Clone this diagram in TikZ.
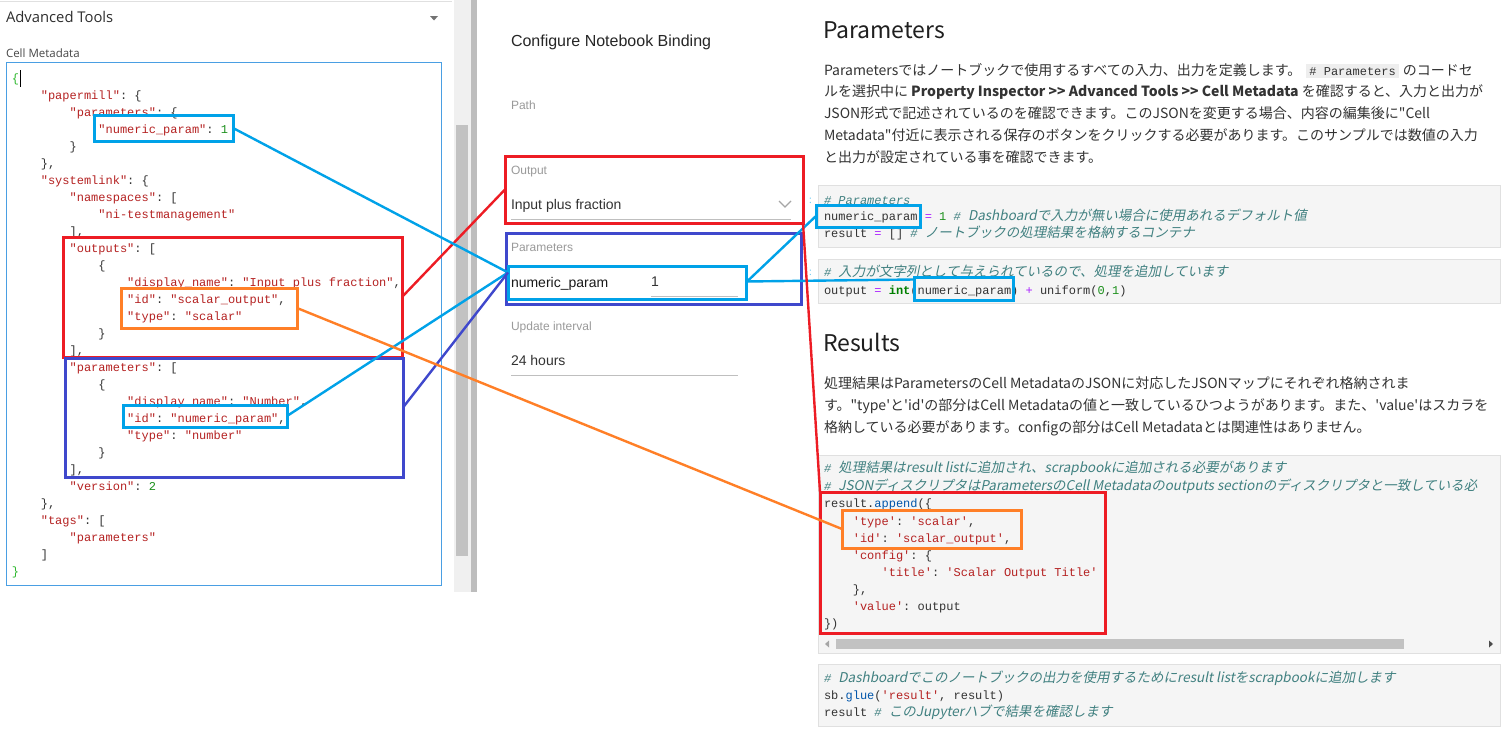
\documentclass[tikz,border=0pt]{standalone}
\usepackage{fontspec}
\setmainfont{Open Sans}
\setmonofont{Liberation Mono}
\newfontfamily\jp{Noto Sans CJK JP}
\newfontfamily\jpi{Noto Sans CJK JP}[FakeSlant=0.2]
\newfontfamily\robo{Liberation Sans}
\usetikzlibrary{calc}
\definecolor{lred}{HTML}{ED1C24}
\definecolor{lcyan}{HTML}{00A2E8}
\definecolor{lind}{HTML}{3F48CC}
\definecolor{lorange}{HTML}{FF7F27}
\definecolor{jstr}{HTML}{B52222}
\definecolor{jnum}{HTML}{1A8F1A}
\definecolor{jbrace}{HTML}{2DB82D}
\definecolor{pun}{HTML}{333333}
\definecolor{cmt}{HTML}{408080}
\definecolor{opc}{HTML}{AA22FF}
\definecolor{bltin}{HTML}{008000}
\definecolor{prop}{HTML}{0055AA}
\definecolor{bodyc}{HTML}{333333}
\definecolor{lbl}{HTML}{9A9A9A}
\definecolor{cellbg}{HTML}{F5F5F5}
\definecolor{cellbd}{HTML}{E0E0E0}
\definecolor{editbd}{HTML}{4A9FE3}
\definecolor{pillbg}{HTML}{EEEEEE}
\newcommand\xS[1]{\textcolor{jstr}{#1}}
\newcommand\xN[1]{\textcolor{jnum}{#1}}
\newcommand\xG[1]{\textcolor{jbrace}{#1}}
\newcommand\xO[1]{\textcolor{opc}{#1}}
\newcommand\xC[1]{\textcolor{cmt}{\itshape #1}}
\newcommand\xJ[1]{{\color{cmt}\jpi\fontsize{13.5}{14}\selectfont #1}}
\newcommand\xP[1]{\textcolor{prop}{#1}}
\newcommand\xB[1]{\textcolor{bltin}{\bfseries #1}}
\newcommand\jl[4]{\node[lc] (#1) at ({12+7.2*#2},{82+17*#3}) {#4};}
\newcommand\rl[4]{\node[lc] (#1) at ({824+7.2*#2},#3) {#4};}
\newcommand\mkbox[6]{\node[mk=#2,minimum width={#5-#3},minimum height={#6-#4}] (#1) at (#3,#4) {};}
\begin{document}
\begin{tikzpicture}[x=1pt,y=-1pt,
  txt/.style={anchor=base west,inner sep=0pt,outer sep=0pt},
  lc/.style={txt,font=\ttfamily\fontsize{12}{14}\selectfont,text=pun},
  bt/.style={txt,font=\jp\fontsize{14}{16}\selectfont,text=bodyc},
  hd/.style={txt,font=\jp\fontsize{23}{26}\selectfont,text=black!88},
  ml/.style={txt,font=\robo\fontsize{12}{14}\selectfont,text=lbl},
  mv/.style={txt,font=\robo\fontsize{14}{16}\selectfont,text=pun},
  mk/.style={draw=#1,line width=3pt,inner sep=0pt,outer sep=0pt,anchor=north west},
  cl/.style={draw=#1,line width=2.4pt},
  cell/.style={fill=cellbg,draw=cellbd,line width=0.8pt}]
\useasboundingbox (0,0) rectangle (1502,736);
\fill[white] (0,0) rectangle (1502,736);

% ---------- left panel ----------
\draw[black!12,line width=1pt] (0,1.5) -- (452,1.5);
\node[txt,font=\fontsize{14.8}{16}\selectfont,text=black!82] (advt) at (6,22) {Advanced Tools};
\fill[black!55] (430,16) -- (438,16) -- (434,20.5) -- cycle;
\node[txt,font=\fontsize{11.5}{13}\selectfont,text=black!72] (cellmd) at (6,57) {Cell Metadata};
\draw[editbd,line width=1pt] (6.5,62.5) rectangle (441.5,585.5);

\jl{j0}{0}{0}{\xG{\{}}
\draw[black,line width=1pt] (20,70) -- (20,87);
\jl{j1}{4}{1}{\xS{"papermill"}: \{}
\jl{j2}{8}{2}{\xS{"parameters"}: \{}
\jl{j3}{12}{3}{\xS{"numeric\_param"}: \xN{1}}
\jl{j4}{8}{4}{\}}
\jl{j5}{4}{5}{\},}
\jl{j6}{4}{6}{\xS{"systemlink"}: \{}
\jl{j7}{8}{7}{\xS{"namespaces"}: [}
\jl{j8}{12}{8}{\xS{"ni-testmanagement"}}
\jl{j9}{8}{9}{],}
\jl{j10}{8}{10}{\xS{"outputs"}: [}
\jl{j11}{12}{11}{\{}
\jl{j12}{16}{12}{\xS{"display\_name"}: \xS{"Input plus fraction"},}
\jl{j13}{16}{13}{\xS{"id"}: \xS{"scalar\_output"},}
\jl{j14}{16}{14}{\xS{"type"}: \xS{"scalar"}}
\jl{j15}{12}{15}{\}}
\jl{j16}{8}{16}{],}
\jl{j17}{8}{17}{\xS{"parameters"}: [}
\jl{j18}{12}{18}{\{}
\jl{j19}{16}{19}{\xS{"display\_name"}: \xS{"Number"},}
\jl{j20}{16}{20}{\xS{"id"}: \xS{"numeric\_param"},}
\jl{j21}{16}{21}{\xS{"type"}: \xS{"number"}}
\jl{j22}{12}{22}{\}}
\jl{j23}{8}{23}{],}
\jl{j24}{8}{24}{\xS{"version"}: \xN{2}}
\jl{j25}{4}{25}{\},}
\jl{j26}{4}{26}{\xS{"tags"}: [}
\jl{j27}{8}{27}{\xS{"parameters"}}
\jl{j28}{4}{28}{]}
\jl{j29}{0}{29}{\xG{\}}}

% scrollbar
\fill[black!6] (454,0) rectangle (471,592);
\fill[black!24] (456,125) rectangle (468,556);
\fill[black!26] (471,0) rectangle (477,592);

% ---------- middle panel ----------
\node[txt,font=\robo\fontsize{16}{18}\selectfont,text=black!85] (cnb) at (511,46) {Configure Notebook Binding};
\node[ml] (path) at (511,109) {Path};
\node[ml] (outl) at (511,174) {Output};
\node[mv] (outv) at (511,209) {Input plus fraction};
\draw[black!35,line width=1.3pt] (779,201) -- (785,207) -- (791,201);
\draw[black!25,line width=1pt] (511,219.5) -- (791,219.5);
\node[ml] (parl) at (511,251) {Parameters};
\node[mv,text=black!90] (parn) at (511,287) {numeric\_param};
\node[mv] (parv) at (651,286) {1};
\draw[black!25,line width=1pt] (651,296.5) -- (738,296.5);
\node[ml] (updl) at (511,330) {Update interval};
\node[mv] (updv) at (511,365) {24 hours};
\draw[black!25,line width=1pt] (511,375.5) -- (738,375.5);

% ---------- right panel ----------
\node[hd] (h1) at (823,38) {Parameters};
\node[bt] (b1a) at (824,75) {Parametersではノートブックで使用するすべての入力、出力を定義します。};
\node[txt,font=\ttfamily\fontsize{12}{14}\selectfont,text=pun,fill=pillbg,inner xsep=3pt,inner ysep=3pt] (pill) at ([xshift=5pt]b1a.base east) {\# Parameters};
\node[bt] (b1c) at ([xshift=4pt]pill.base east) {のコードセ};
\node[bt] (b2) at (824,96) {ルを選択中に {\bfseries Property Inspector >> Advanced Tools >> Cell Metadata} を確認すると、入力と出力が};
\node[bt] (b3) at (824,118) {JSON形式で記述されているのを確認できます。このJSONを変更する場合、内容の編集後に"Cell};
\node[bt] (b4) at (824,140) {Metadata"付近に表示される保存のボタンをクリックする必要があります。このサンプルでは数値の入力};
\node[bt] (b5) at (824,162) {と出力が設定されている事を確認できます。};

\fill[cell] (818,185) rectangle (1500,247);
\fill[cell] (818,259) rectangle (1500,303);
\node[txt,font=\fontsize{10}{10}\selectfont,text=lcyan!60] (dot1) at (809,203) {:};
\node[txt,font=\fontsize{10}{10}\selectfont,text=lcyan!60] (dot2) at (809,275) {:};
\rl{r1}{0}{204}{\xC{\# Parameters}}
\rl{r2}{0}{220}{numeric\_param \xO{=} \xN{1} \xC{\#} \xJ{Dashboardで入力が無い場合に使用あれるデフォルト値}}
\rl{r3}{0}{237}{result \xO{=} [] \xC{\#} \xJ{ノートブックの処理結果を格納するコンテナ}}
\rl{r4}{0}{276}{\xC{\#} \xJ{入力が文字列として与えられているので、処理を追加しています}}
\rl{r5}{0}{294}{output \xO{=} \xB{int}(numeric\_param) \xO{+} uniform(\xN{0},\xN{1})}

\node[hd] (h2) at (823,351) {Results};
\node[bt] (c1) at (824,388) {処理結果はParametersのCell MetadataのJSONに対応したJSONマップにそれぞれ格納されま};
\node[bt] (c2) at (824,410) {す。"type'と'id'の部分はCell Metadataの値と一致しているひつようがあります。また、'value'はスカラを};
\node[bt] (c3) at (824,432) {格納している必要があります。configの部分はCell Metadataとは関連性はありません。};

\fill[cell] (818,455) rectangle (1500,653);
\fill[black!4] (819,636) rectangle (1499,652);
\fill[black!24] (836,639) rectangle (1404,649);
\fill[black!35] (825,644) -- (829,640.5) -- (829,647.5) -- cycle;
\fill[black!70] (1493,644) -- (1489,640.5) -- (1489,647.5) -- cycle;
\rl{r6}{0}{472}{\xC{\#} \xJ{処理結果はresult listに追加され、scrapbookに追加される必要があります}}
\rl{r7}{0}{490}{\xC{\#} \xJ{JSONディスクリプタはParametersのCell Metadataのoutputs sectionのディスクリプタと一致している必}}
\rl{r8}{0}{507}{result.\xP{append}(\{}
\rl{r9}{4}{525}{\xS{'type'}: \xS{'scalar'},}
\rl{r10}{4}{542}{\xS{'id'}: \xS{'scalar\_output'},}
\rl{r11}{4}{559}{\xS{'config'}: \{}
\rl{r12}{8}{576}{\xS{'title'}: \xS{'Scalar Output Title'}}
\rl{r13}{4}{593}{\},}
\rl{r14}{4}{610}{\xS{'value'}: output}
\rl{r15}{0}{627}{\})}

\fill[cell] (818,664) rectangle (1500,726);
\rl{r16}{0}{682}{\xC{\#} \xJ{Dashboardでこのノートブックの出力を使用するためにresult listをscrapbookに追加します}}
\rl{r17}{0}{699}{sb.\xP{glue}(\xS{'result'}, result)}
\rl{r18}{0}{716}{result \xC{\#} \xJ{このJupyterハブで結果を確認します}}

% ---------- highlight boxes ----------
\mkbox{lnum}{lcyan}{94}{115}{233}{141}
\mkbox{lout}{lred}{63}{237}{402}{357}
\mkbox{lor}{lorange}{121}{288}{297}{328}
\mkbox{lpar}{lind}{65}{358}{403}{477}
\mkbox{lid}{lcyan}{123}{405}{287}{427}
\mkbox{mout}{lred}{505}{156}{803}{223}
\mkbox{mpar}{lind}{506}{233}{801}{304}
\mkbox{mnum}{lcyan}{508}{266}{746}{299}
\mkbox{rn1}{lcyan}{816}{205}{920}{227}
\mkbox{rn2}{lcyan}{914}{277}{1013}{300}
\mkbox{rres}{lred}{820}{492}{1105}{633}
\mkbox{ror}{lorange}{842}{510}{1021}{548}

% ---------- connectors ----------
\coordinate (mnin) at ($(mnum.west)+(0,-10)$);
\draw[cl=lred] (lout.east) -- (mout.west);
\draw[cl=lcyan] (lnum.east) -- (mnin);
\draw[cl=lcyan] (lid.east) -- (mnin);
\draw[cl=lind] ($(lpar.east)+(0,-10)$) -- (mnin);
\draw[cl=lorange] (lor.east) -- (ror.west);
\draw[cl=lcyan] (mnum.east) -- (rn1.west);
\draw[cl=lcyan] ($(mnum.east)+(0,-1)$) -- ($(rn2.west)+(0,-9)$);
\draw[cl=lred] (mout.south east) -- (rres.north west);
\end{tikzpicture}
\end{document}
